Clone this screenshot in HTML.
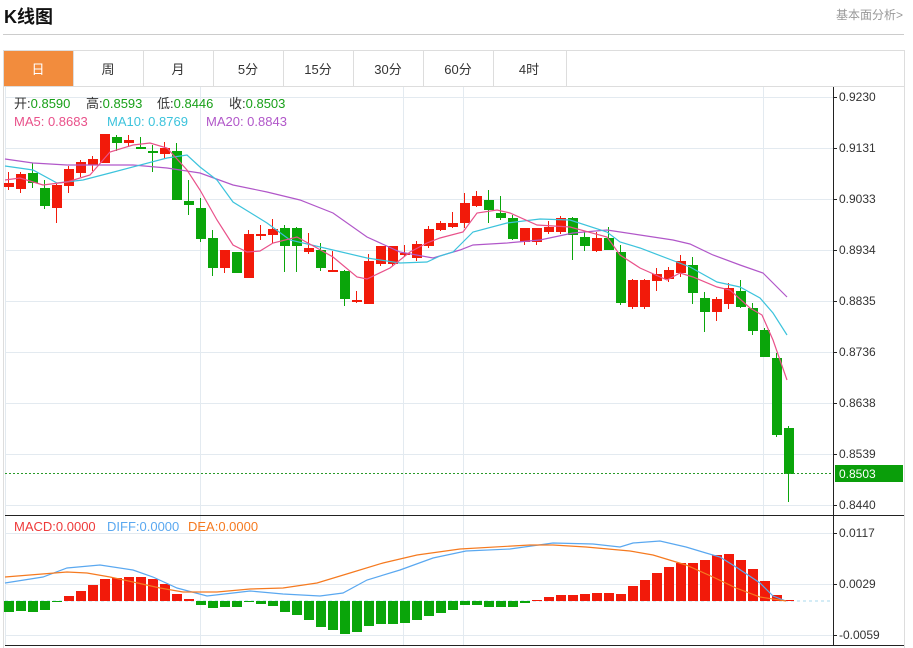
<!DOCTYPE html>
<html><head><meta charset="utf-8">
<style>
body{margin:0;width:913px;height:648px;background:#fff;font-family:"Liberation Sans","Noto Sans CJK SC",sans-serif;position:relative;overflow:hidden}
.t{position:absolute;white-space:nowrap}
</style></head><body>
<div class="t" style="left:4px;top:3px;font-size:18px;font-weight:bold;color:#111">K线图</div>
<div class="t" style="left:836px;top:6px;font-size:12px;color:#999">基本面分析&gt;</div>
<div style="position:absolute;left:3px;top:34px;width:901px;height:1px;background:#ccc"></div>
<svg width="913" height="648" style="position:absolute;left:0;top:0" id="s" font-family="Liberation Sans, Noto Sans CJK SC, sans-serif">
<rect x="3.5" y="50.5" width="901" height="600" fill="none" stroke="#ddd"/>
<line x1="3" y1="86.5" x2="905" y2="86.5" stroke="#ddd"/>
<rect x="4" y="51" width="69" height="35" fill="#f28c3d"/>
<g stroke="#ddd"><line x1="73.5" y1="51" x2="73.5" y2="86"/><line x1="143.5" y1="51" x2="143.5" y2="86"/><line x1="213.5" y1="51" x2="213.5" y2="86"/><line x1="283.5" y1="51" x2="283.5" y2="86"/><line x1="353.5" y1="51" x2="353.5" y2="86"/><line x1="423.5" y1="51" x2="423.5" y2="86"/><line x1="493.5" y1="51" x2="493.5" y2="86"/><line x1="566.5" y1="51" x2="566.5" y2="86"/></g>
<g font-size="13" text-anchor="middle" fill="#333">
<text x="38" y="74" fill="#fff">日</text><text x="108" y="74">周</text><text x="178" y="74">月</text><text x="248" y="74">5分</text><text x="318" y="74">15分</text><text x="388" y="74">30分</text><text x="458" y="74">60分</text><text x="529" y="74">4时</text></g>
<g id="grid" stroke="#e3eaf0"></g>
<line x1="5.5" y1="87" x2="5.5" y2="645" stroke="#e3eaf0"/>
<line x1="833.5" y1="87" x2="833.5" y2="645" stroke="#222"/>
<line x1="5" y1="515.5" x2="904" y2="515.5" stroke="#222"/>
<line x1="5" y1="645.5" x2="904" y2="645.5" stroke="#222"/>
<g id="ax" font-size="12" fill="#333"></g>
<g id="c"></g>
<line x1="5" y1="601" x2="832" y2="601" stroke="#a8d8ee" stroke-dasharray="3,3"/>
<g id="m"></g>
<line x1="5" y1="473.5" x2="833" y2="473.5" stroke="#2a9a2a" stroke-dasharray="2,2"/>
<rect x="835" y="465" width="68" height="17" fill="#0a9e0a"/>
<text x="839" y="478" font-size="12" fill="#fff">0.8503</text>
<g font-size="13">
<text x="14" y="108" fill="#333">开:<tspan fill="#19a019">0.8590</tspan></text>
<text x="86" y="108" fill="#333">高:<tspan fill="#19a019">0.8593</tspan></text>
<text x="157" y="108" fill="#333">低:<tspan fill="#19a019">0.8446</tspan></text>
<text x="229" y="108" fill="#333">收:<tspan fill="#19a019">0.8503</tspan></text>
<text x="14" y="126" fill="#e9518a">MA5: 0.8683</text>
<text x="107" y="126" fill="#3cc3dc">MA10: 0.8769</text>
<text x="206" y="126" fill="#b157c9">MA20: 0.8843</text>
<text x="14" y="531" fill="#ee3a3a">MACD:0.0000</text>
<text x="107" y="531" fill="#5aa8f0">DIFF:0.0000</text>
<text x="188" y="531" fill="#f57a20">DEA:0.0000</text>
</g>
</svg>
<script>
var N="http://www.w3.org/2000/svg",s=document.getElementById('s');
function el(p,t,a){var e=document.createElementNS(N,t);for(var k in a)e.setAttribute(k,a[k]);p.appendChild(e);return e;}
var g=document.getElementById('grid'),ax=document.getElementById('ax');
var py=[97,148,199,250,301,352,403,454,505],pl=["0.9230","0.9131","0.9033","0.8934","0.8835","0.8736","0.8638","0.8539","0.8440"];
py.forEach(function(y,i){el(g,'line',{x1:5,x2:833,y1:y+.5,y2:y+.5});el(ax,'line',{x1:833,x2:837,y1:y+.5,y2:y+.5,stroke:'#222'});var t=el(ax,'text',{x:839,y:y+4});t.textContent=pl[i];});
[[533,"0.0117"],[584,"0.0029"],[635,"-0.0059"]].forEach(function(a){el(g,'line',{x1:5,x2:833,y1:a[0]+.5,y2:a[0]+.5});el(ax,'line',{x1:833,x2:837,y1:a[0]+.5,y2:a[0]+.5,stroke:'#222'});var t=el(ax,'text',{x:839,y:a[0]+4});t.textContent=a[1];});
[200,403,463,763].forEach(function(x){el(g,'line',{x1:x+.5,x2:x+.5,y1:87,y2:645});});
var C=[[183,187,172,190,'r'],[174,189,172,193,'r'],[173,183,163,188,'g'],[188,206,180,209,'g'],[185,208,184,223,'r'],[169,186,166,193,'r'],[162,173,160,177,'r'],[159,165,156,171,'r'],[134,163,134,163,'r'],[137,143,135,151,'g'],[140,143,135,147,'r'],[147,149,137,149,'g'],[151,153,145,172,'g'],[148,154,142,158,'r'],[151,200,143,200,'g'],[201,205,180,215,'g'],[208,239,198,242,'g'],[238,268,230,276,'g'],[250,268,250,273,'r'],[252,273,252,273,'g'],[234,278,230,278,'r'],[234,236,225,240,'r'],[229,235,219,243,'r'],[228,246,225,272,'g'],[228,246,227,272,'g'],[248,252,233,254,'r'],[250,268,243,271,'g'],[270,272,251,272,'r'],[271,299,270,306,'g'],[300,302,291,303,'r'],[261,304,254,304,'r'],[246,264,246,266,'r'],[246,264,246,266,'r'],[253,255,245,257,'r'],[244,258,241,261,'r'],[229,246,226,248,'r'],[223,230,221,231,'r'],[223,227,212,228,'r'],[203,223,193,228,'r'],[196,206,191,207,'r'],[200,210,190,223,'g'],[213,218,196,220,'g'],[218,239,215,240,'g'],[228,242,228,245,'r'],[228,242,228,245,'r'],[227,232,221,234,'r'],[218,232,216,234,'r'],[218,235,217,260,'g'],[237,246,232,251,'g'],[238,251,232,252,'r'],[238,250,227,250,'g'],[252,303,245,305,'g'],[280,307,279,309,'r'],[280,307,279,309,'r'],[274,281,268,291,'r'],[270,279,267,282,'r'],[261,273,255,277,'r'],[265,293,257,304,'g'],[298,312,292,332,'g'],[299,312,297,321,'r'],[288,304,283,309,'r'],[291,307,280,308,'g'],[308,331,303,335,'g'],[330,357,328,357,'g'],[358,435,353,437,'g'],[428,474,426,502,'g']];
var c=document.getElementById('c');
C.forEach(function(d,i){var x=8+12*i,col=d[4]=='r'?'#f21a0a':'#0aa50a';el(c,'line',{x1:x+.5,x2:x+.5,y1:d[2],y2:d[3],stroke:col});el(c,'rect',{x:x-4,y:d[0],width:10,height:Math.max(1,d[1]-d[0]),fill:col});});
function pl2(p,pts,col){el(p,'polyline',{points:pts,fill:'none',stroke:col,'stroke-width':1.2});}
pl2(c,"5,159 33,163 67,165 100,165 133,165 167,168 200,173 233,185 267,192 300,200 333,213 367,237 400,252 433,258 460,250 473,245 507,243 540,240 573,233 607,230 640,235 673,240 690,244 713,255 740,265 763,273 787,297",'#b157c9');
pl2(c,"5,166 33,170 57,183 83,180 110,173 167,158 187,155 200,167 217,180 233,202 267,223 290,240 333,250 367,258 400,263 427,262 440,256 453,252 473,232 507,223 540,219 570,220 607,232 620,242 640,248 690,267 717,282 740,287 760,298 773,313 787,335",'#3cc3dc');
pl2(c,"5,180 20,178 43,185 67,182 90,175 110,152 133,145 150,143 167,148 187,170 200,190 217,220 233,245 247,252 260,251 273,243 297,237 317,248 333,257 357,277 367,279 390,268 410,252 427,243 440,238 463,232 477,213 497,210 510,213 537,225 570,227 607,237 620,255 640,268 667,280 680,273 693,277 717,287 730,290 750,308 762,315 773,340 787,380",'#e9518a');
var m=document.getElementById('m');
var M=[612,611,612,610,602,596,591,585,579,578,577,577,579,584,594,599,605,608,607,607,602,604,606,612,615,620,627,630,634,632,626,624,624,623,620,616,613,610,605,605,607,607,607,603,600,597,595,595,594,593,593,594,586,580,573,567,563,563,560,555,554,560,569,581,595,600];
M.forEach(function(y,i){var x=8+12*i;if(y>601)el(m,'rect',{x:x-4,y:601,width:10,height:y-601,fill:'#0aa50a'});else if(y<601)el(m,'rect',{x:x-4,y:y,width:10,height:601-y,fill:'#f21a0a'});});
pl2(m,"5,583 43,577 67,568 100,565 133,570 153,577 177,588 207,596 233,593 250,591 283,594 320,596 343,593 367,580 400,570 433,558 466,551 510,549 553,543 593,544 620,547 633,543 660,541 686,547 706,553 720,557 736,567 760,583 773,596 786,601",'#5aa8f0');
pl2(m,"5,577 67,572 87,573 110,577 133,582 160,588 183,592 217,592 250,589 283,588 317,583 350,573 383,563 417,555 460,549 530,545 553,545 586,547 630,551 653,555 686,565 713,577 736,588 760,597 786,601",'#f57a20');
</script>
</body></html>
